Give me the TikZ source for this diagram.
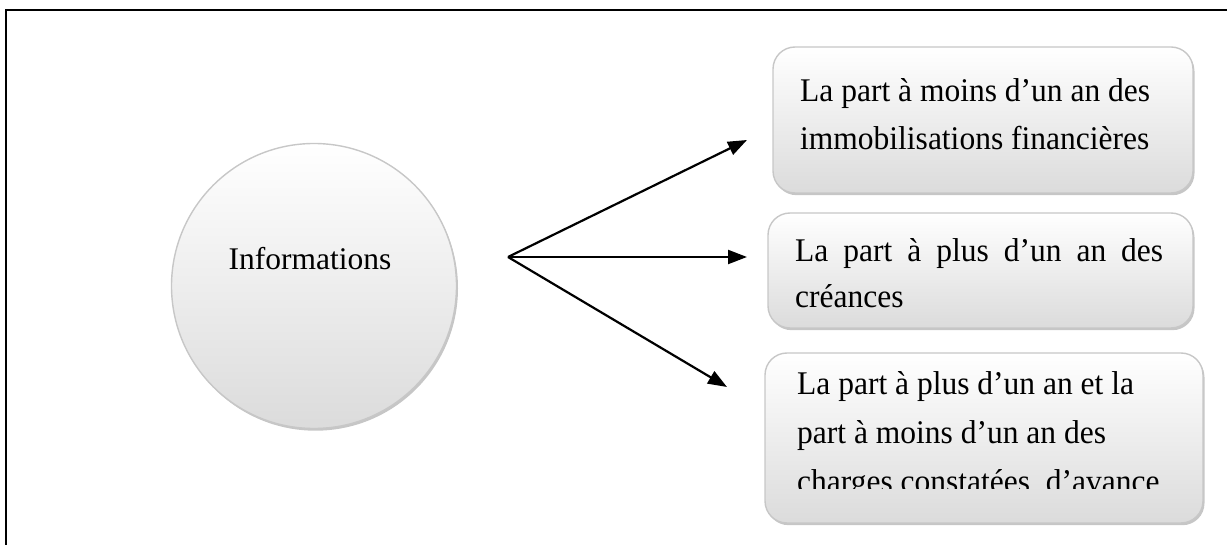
\documentclass[tikz,border=0pt]{standalone}
\usepackage{fontspec}
\setmainfont{Liberation Serif}
\usetikzlibrary{arrows.meta,shadows}
\newcommand{\tallish}[1]{\scalebox{1}[1.05]{#1}}
\begin{document}
\begin{tikzpicture}[x=1pt,y=-1pt,
  bubble/.style={top color=white,bottom color=black!14,draw=black!22,line width=1.4pt,
    drop shadow={shadow xshift=1.5pt,shadow yshift=-2.2pt,opacity=0.45,fill=black!50}},
  boxshape/.style={bubble,rectangle,rounded corners=22pt,inner sep=0pt},
  txt/.style={font=\fontsize{31.5}{48}\selectfont,inner sep=0pt,anchor=base west},
  arr/.style={line width=2.2pt,-{Triangle[length=19pt,width=14pt]}}]
\useasboundingbox (0,0) rectangle (1227,545);
% page frame (left and top only)
\draw[line width=2.4pt] (6,545) -- (6,10) -- (1227,10);
% circle
\node[bubble,circle,minimum size=285pt,inner sep=0pt] (info) at (314,286) {};
\node[txt,anchor=base] (infotext) at (310,270) {Informations};
% boxes
\node[boxshape,minimum width=420pt,minimum height=146pt] (b1) at (983,120) {};
\node[boxshape,minimum width=425pt,minimum height=115pt] (b2) at (980.5,270.5) {};
\node[boxshape,minimum width=438pt,minimum height=170pt] (b3) at (984,438) {};
% texts
\node[txt] (t1a) at (800,102) {\tallish{La part à moins d’un an des}};
\node[txt] (t1b) at (800,150) {\tallish{immobilisations financières}};
\node[txt] (t2a) at (795,262) {\tallish{\makebox[368pt][s]{La part à plus d’un an des}}};
\node[txt] (t2b) at (795,308) {\tallish{créances}};
\node[txt] (t3a) at (797,395) {\tallish{La part à plus d’un an et la}};
\node[txt] (t3b) at (797,443) {\tallish{part à moins d’un an des}};
\begin{scope}
\clip (770,460) rectangle (1200,488);
\node[txt] (t3c) at (797,492) {\tallish{charges constatées\ \ d’avance}};
\end{scope}
% arrows
\coordinate (hub) at (508,257);
\coordinate (e1) at (747,140);
\coordinate (e2) at (747,257);
\coordinate (e3) at (727,387);
\draw[arr] (hub) -- (e1);
\draw[arr] (hub) -- (e2);
\draw[arr] (hub) -- (e3);
\end{tikzpicture}
\end{document}
